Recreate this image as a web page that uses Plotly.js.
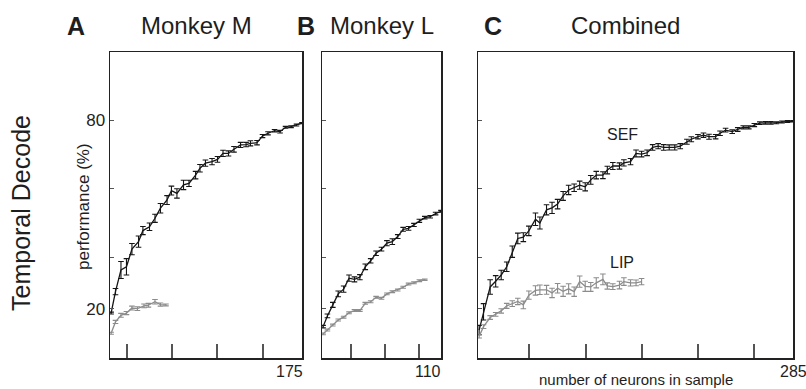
<!DOCTYPE html>
<html><head><meta charset="utf-8">
<script src="https://cdn.plot.ly/plotly-3.0.1.min.js"></script>
<style>html,body{margin:0;padding:0;background:#fff}#chart{width:806px;height:389px}</style>
</head><body><div id="chart"></div>
<script>
// ---- data ----
// Panel A: Monkey M
const xA_sef = [1,5,10,15,20,26,30,36,41,46,52,56,61,67,72,78,82,87,93,98,103,108,113,119,124,128,134,139,144,150,155,160,165,170,175];
const yA_sef = [18.7,25.5,32.4,33.4,39.0,41.4,44.9,46.1,48.8,52.0,54.6,57.6,56.7,59.4,59.9,62.5,64.7,66.3,66.8,67.5,69.4,69.4,70.7,72.1,72.2,72.6,72.8,74.9,75.8,76.6,76.3,77.7,77.9,78.4,79.0];
const eA_sef = [0.3,1.0,2.7,2.6,1.8,1.8,1.3,1.2,1.3,1.5,1.4,1.4,1.5,1.5,1.0,1.2,1.2,1.0,1.0,0.9,1.0,0.8,0.9,0.8,0.7,0.8,0.7,0.5,0.5,0.4,0.4,0.3,0.3,0.3,0.2];
const xA_lip = [1,5,10,15,20,25,31,35,41,46,51];
const yA_lip = [12.3,15.9,18.0,18.7,20.3,20.1,21.0,21.2,22.3,21.4,21.3];
const eA_lip = [0.3,0.5,0.6,0.5,0.6,0.6,0.6,0.6,0.7,0.5,0.3];
// Panel B: Monkey L
const xB_sef = [1,5,10,15,20,25,30,35,40,45,50,55,60,65,70,75,80,85,90,95,100,105,110];
const yB_sef = [14.4,17.8,21.3,24.8,26.3,29.8,29.4,30.1,33.4,35.3,37.7,39.0,40.9,41.4,43.0,45.3,45.6,46.7,48.0,49.0,49.3,50.3,51.0];
const eB_sef = [0.4,0.6,0.8,0.9,1.0,1.0,0.8,0.8,0.9,0.7,0.7,0.6,0.8,0.9,0.6,0.6,0.6,0.5,0.5,0.4,0.4,0.4,0.3];
const xB_lip = [1,5,10,15,20,25,30,35,40,45,50,55,60,65,70,75,80,85,90,95];
const yB_lip = [12.1,13.3,14.9,16.5,17.4,18.8,19.5,19.5,21.8,22.3,23.7,23.4,24.8,25.5,26.0,26.9,27.9,28.3,29.0,29.3];
const eB_lip = [0.3,0.3,0.3,0.3,0.3,0.3,0.3,0.3,0.3,0.3,0.3,0.3,0.3,0.3,0.3,0.3,0.3,0.3,0.3,0.2];
// Panel C: Combined
const xC_sef = [1,5,11,16,21,26,31,36,41,46,52,56,62,67,72,77,82,87,92,97,102,107,113,117,122,128,132,138,143,148,153,158,163,168,173,178,183,189,193,199,204,209,215,219,224,230,235,240,245,250,255,260,265,270,275,280,285];
const yC_sef = [13.3,19.1,27.0,28.8,30.8,33.4,38.2,42.4,42.8,44.8,48.5,47.3,51.5,52.1,53.3,55.9,57.8,58.5,59.3,58.8,61.0,62.5,62.5,64.1,65.4,65.4,66.4,66.8,69.4,69.2,69.6,71.3,71.7,71.3,71.3,71.3,71.7,73.1,73.9,74.7,75.2,74.7,74.7,75.8,76.8,76.3,77.0,77.7,77.7,78.4,79.0,79.1,79.1,79.1,79.4,79.5,79.6];
const eC_sef = [1.5,2.6,2.3,1.8,1.5,1.5,1.8,1.7,1.4,1.5,2.0,1.9,1.6,1.8,1.5,1.4,1.5,1.2,1.3,1.3,1.4,1.2,1.1,1.2,1.1,1.0,1.0,1.0,1.1,0.9,0.9,0.9,0.8,0.9,0.8,0.8,0.8,0.8,0.8,0.7,0.7,0.8,0.7,0.7,0.6,0.6,0.6,0.5,0.5,0.5,0.4,0.4,0.4,0.3,0.3,0.3,0.2];
const xC_lip = [1,5,11,16,21,26,31,36,41,46,52,56,62,67,72,77,82,87,92,97,102,107,113,117,122,128,132,138,143,148];
const yC_lip = [11.3,14.4,17.3,18.3,19.4,21.0,21.7,22.4,21.3,24.4,25.9,26.1,26.1,25.1,26.6,25.6,26.4,25.5,28.7,27.2,27.0,28.3,29.4,27.3,27.1,27.6,28.7,28.3,28.3,28.7];
const eC_lip = [0.5,0.6,0.6,0.6,0.7,0.8,0.9,1.0,1.2,1.3,1.5,1.5,1.4,1.5,1.5,1.6,1.6,1.5,1.8,1.6,1.4,1.6,1.7,1.0,0.9,1.2,1.2,1.0,0.9,1.0];
// axis ticks
const yTickVals = [80, 58.4, 36.5, 20];
const yTickText = ['80', '', '', '20'];
const xTicksA = [15.5, 56.5, 97.5, 139.5];
const xTicksB = [26.8, 58.2, 89.6];
const xTicksC = [46.2, 97.7, 148.4, 199.1, 249.8];
const xMax = {A: 175, B: 110, C: 285};

// ---- layout helpers ----
const W = 806, H = 389;
const fx = p => p / W, fy = p => 1 - p / H;
const FONT = 'Liberation Sans, Arial, Helvetica, sans-serif';
const BLACK = '#151515', GRAY = '#8c8c8c';

function series(x, y, e, color, xa, ya) {
  return {x, y, type: 'scatter', mode: 'lines', xaxis: xa, yaxis: ya,
    line: {color, width: 1.3}, hoverinfo: 'skip',
    error_y: {type: 'data', array: e, visible: true, color, thickness: 1.1, width: 2.8}};
}
const traces = [
  series(xA_sef, yA_sef, eA_sef, BLACK, 'x', 'y'),
  series(xA_lip, yA_lip, eA_lip, GRAY, 'x', 'y'),
  series(xB_sef, yB_sef, eB_sef, BLACK, 'x2', 'y2'),
  series(xB_lip, yB_lip, eB_lip, GRAY, 'x2', 'y2'),
  series(xC_sef, yC_sef, eC_sef, BLACK, 'x3', 'y3'),
  series(xC_lip, yC_lip, eC_lip, GRAY, 'x3', 'y3'),
];

const yRange = [4.44, 101.6];
function xaxis(left, right, max, ticks, anchor) {
  return {domain: [fx(left), fx(right)], range: [0, max], anchor,
    showline: true, linecolor: '#222', linewidth: 1.5, mirror: true,
    showgrid: false, zeroline: false, ticks: 'inside', ticklen: 14, tickwidth: 1.2, tickcolor: '#555',
    tickvals: ticks, showticklabels: false, fixedrange: true};
}
function yaxis(anchor, labels) {
  return {domain: [fy(358), fy(52)], range: yRange, anchor,
    showline: true, linecolor: '#222', linewidth: 1.5, mirror: true,
    showgrid: false, zeroline: false, ticks: 'inside', ticklen: 4, tickwidth: 1, tickcolor: '#555',
    tickvals: yTickVals, ticktext: yTickText, showticklabels: labels,
    tickfont: {family: FONT, size: 17, color: '#222'}, fixedrange: true};
}

function ann(text, x, y, size, opts) {
  return Object.assign({text, x: fx(x), y: fy(y), xref: 'paper', yref: 'paper',
    showarrow: false, font: {family: FONT, size, color: '#1e1e1e'},
    xanchor: 'center', yanchor: 'middle'}, opts || {});
}

const layout = {
  width: W, height: H, margin: {l: 0, r: 0, t: 0, b: 0},
  paper_bgcolor: '#fff', plot_bgcolor: '#fff', showlegend: false,
  xaxis: xaxis(110, 302, xMax.A, xTicksA, 'y'),
  yaxis: yaxis('x', true),
  xaxis2: xaxis(322, 441, xMax.B, xTicksB, 'y2'),
  yaxis2: yaxis('x2', false),
  xaxis3: xaxis(478, 793, xMax.C, xTicksC, 'y3'),
  yaxis3: yaxis('x3', false),
  annotations: [
    ann('<b>A</b>', 76, 26, 25),
    ann('Monkey M', 196, 26, 24),
    ann('<b>B</b>', 306, 26, 25),
    ann('Monkey L', 382, 26, 24),
    ann('<b>C</b>', 493, 26, 25),
    ann('Combined', 625, 26, 24),
    ann('Temporal Decode', 21, 213, 25, {textangle: -90}),
    ann('performance (%)', 83, 207, 17, {textangle: -90}),
    ann('175', 289, 371, 16),
    ann('110', 428, 371, 16),
    ann('285', 793, 371, 16),
    ann('number of neurons in sample', 636, 389, 15, {yanchor: 'bottom', borderpad: 0}),
    ann('SEF', 622, 134, 16),
    ann('LIP', 622, 262, 16),
  ]
};
Plotly.newPlot('chart', traces, layout, {staticPlot: true, displayModeBar: false});
</script></body></html>
